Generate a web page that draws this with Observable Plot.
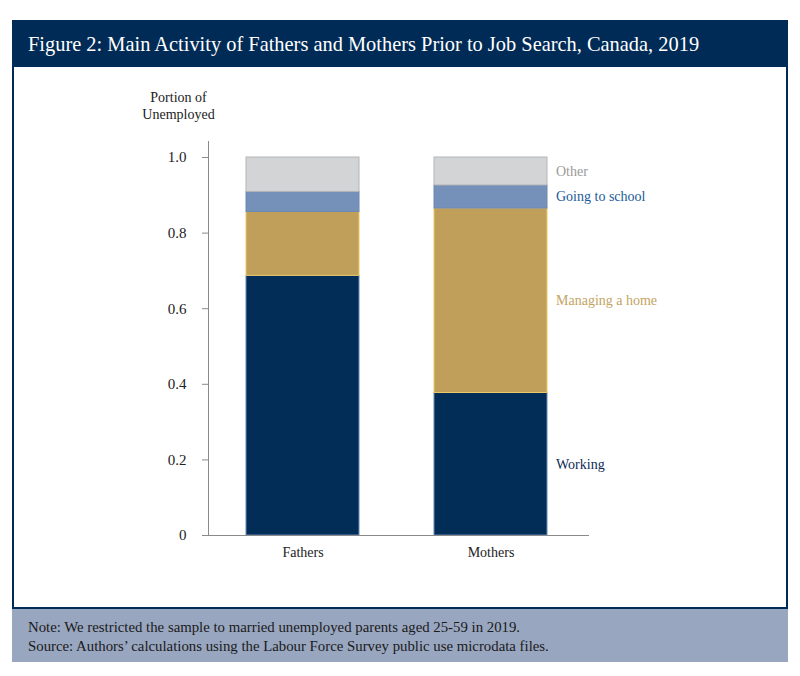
<!DOCTYPE html>
<html><head><meta charset="utf-8">
<script src="https://cdn.jsdelivr.net/npm/d3@7"></script>
<script src="https://cdn.jsdelivr.net/npm/@observablehq/plot@0.6"></script>
<style>
html,body{margin:0;padding:0;background:#fff;}
#page{position:relative;width:800px;height:676px;overflow:hidden;font-family:"Liberation Serif","DejaVu Serif",serif;}
#title{position:absolute;left:12px;top:20px;width:776px;height:47px;background:#002b56;color:#fff;font-size:20.4px;line-height:49px;padding-left:16px;box-sizing:border-box;white-space:nowrap;}
#panel{position:absolute;left:12px;top:67px;width:776px;height:542px;border:2px solid #002b56;border-top:none;box-sizing:border-box;}
#footer{position:absolute;left:12px;top:609px;width:776px;height:53px;background:#98a6c0;color:#1a1a1a;font-size:14.8px;padding:9px 0 0 16px;box-sizing:border-box;line-height:19px;white-space:nowrap;}
#chart{position:absolute;left:0;top:80px;}
</style>
</head><body>
<div id="page">
  <div id="title">Figure 2: Main Activity of Fathers and Mothers Prior to Job Search, Canada, 2019</div>
  <div id="panel"></div>
  <div id="footer">Note: We restricted the sample to married unemployed parents aged 25-59 in 2019.<br>Source: Authors’ calculations using the Labour Force Survey public use microdata files.</div>
  <div id="chart"></div>
</div>
<script>
const groups = ["Fathers", "Mothers"];
const activities = ["Working", "Managing a home", "Going to school", "Other"];
const fathersShare = [0.687, 0.169, 0.053, 0.091];
const mothersShare = [0.377, 0.488, 0.061, 0.074];
const yTicks = [0, 0.2, 0.4, 0.6, 0.8, 1.0];

const fillColors = {"Working": "#012d56", "Managing a home": "#bf9f5a", "Going to school": "#7591b9", "Other": "#d3d4d6"};
const strokeColors = {"Working": "#6a88b5", "Managing a home": "#ecc966", "Going to school": "#6a88b5", "Other": "#b4b5b7"};
const labelColors = {"Working": "#0d2b55", "Managing a home": "#c3a463", "Going to school": "#1b5b97", "Other": "#9a9a9a"};

const rows = [];
groups.forEach((g, gi) => {
  const vals = gi === 0 ? fathersShare : mothersShare;
  activities.forEach((a, i) => rows.push({group: g, activity: a, value: vals[i]}));
});

const font = "'Liberation Serif','DejaVu Serif',serif";
const chart = Plot.plot({
  width: 800, height: 500,
  marginLeft: 208, marginRight: 211, marginTop: 61, marginBottom: 45,
  insetTop: 16,
  style: {background: "transparent", fontFamily: font, fontSize: "14px", color: "#222"},
  x: {domain: groups, range: [208, 584], paddingInner: 0.4, paddingOuter: 0.2, label: null},
  y: {domain: [0, 1], label: null},
  color: {type: "identity"},
  marks: [
    Plot.barY(rows, {x: "group", y: "value", fill: d => fillColors[d.activity], stroke: d => strokeColors[d.activity], strokeWidth: 1}),
    Plot.text(rows.filter(d => d.group === "Mothers"), Plot.stackY({x: "group", y: "value", text: "activity", fill: d => labelColors[d.activity], textAnchor: "start", dx: 65, fontSize: 14})),
    Plot.frame({anchor: "left", stroke: "#8a8a8a", strokeOpacity: 1}),
    Plot.ruleY([0], {stroke: "#8a8a8a", insetLeft: -5}),
    Plot.axisY({ticks: yTicks, tickSize: 6, tickPadding: 16, tickFormat: d => d === 0 ? "0" : d.toFixed(1), stroke: "#8a8a8a", fill: "#222", label: null, fontSize: 15}),
    Plot.axisX({tickSize: 0, tickPadding: 12, label: null, fill: "#222", fontSize: 14}),
    Plot.text(["Portion of\nUnemployed"], {frameAnchor: "top-left", dx: -30, dy: -36, lineAnchor: "middle", textAnchor: "middle", lineHeight: 1.2, fontSize: 14, fill: "#222"})
  ]
});
document.getElementById("chart").appendChild(chart);
</script>
</body></html>
